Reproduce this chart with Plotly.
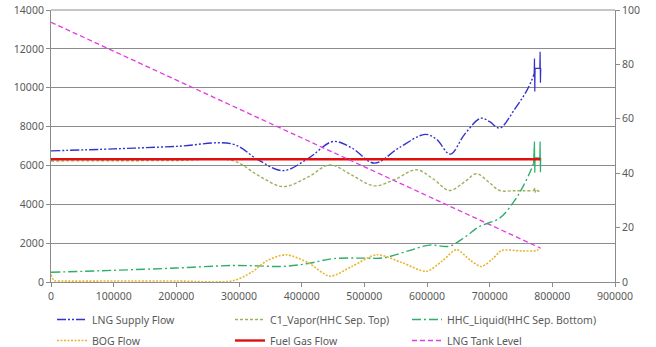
import plotly.graph_objects as go

# ---- data ----
lng_x = [0, 100000, 200000, 290000, 330000, 370000, 410000, 450000, 480000, 516000,
         555000, 597000, 615000, 637000, 660000, 686000, 700000, 716000, 740000, 760000, 771000]
lng_y = [6750, 6850, 6980, 7100, 6300, 5730, 6350, 7230, 6900, 6120,
         6900, 7600, 7350, 6580, 7600, 8430, 8250, 7920, 8900, 9900, 10700]
lng_tail_x = [771000, 771500, 772000, 772500, 775000, 780000, 780500, 781000, 781500]
lng_tail_y = [10700, 11500, 9800, 11000, 11000, 11000, 11850, 10250, 11000]

c1_x = [0, 100000, 200000, 290000, 330000, 370000, 410000, 445000, 480000, 516000,
        550000, 583000, 610000, 636000, 660000, 679000, 700000, 716000, 740000, 770000]
c1_y = [6230, 6240, 6250, 6250, 5500, 4910, 5400, 6030, 5500, 4950,
        5300, 5780, 5300, 4710, 5150, 5570, 5100, 4710, 4700, 4700]
c1_tail_x = [770000, 772000, 773000, 776000, 780000, 781000]
c1_tail_y = [4700, 4850, 4600, 4700, 4650, 4580]

hhc_x = [0, 100000, 200000, 290000, 330000, 370000, 410000, 450000, 500000, 530000,
         570000, 604000, 635000, 660000, 684000, 716000, 740000, 753000, 765000, 770000]
hhc_y = [500, 600, 720, 850, 830, 800, 950, 1200, 1230, 1240,
         1600, 1900, 1840, 2300, 2860, 3290, 4200, 4900, 5700, 6100]
hhc_tail_x = [770000, 771500, 772000, 772500, 780000, 780500, 781000, 781500]
hhc_tail_y = [6100, 7230, 5620, 6390, 6390, 7230, 5650, 6390]

bog_x = [0, 5000, 20000, 100000, 200000, 290000, 320000, 345000, 375000, 410000,
         445000, 480000, 520000, 560000, 599000, 625000, 647000, 670000, 687000, 705000,
         719000, 750000, 775000, 781000]
bog_y = [380, 80, 50, 50, 50, 60, 500, 1100, 1400, 1000,
         300, 800, 1400, 1000, 550, 1100, 1660, 1100, 800, 1200,
         1620, 1600, 1620, 1740]

fuel_x = [0, 781000]
fuel_y = [6320, 6320]

tank_x = [0, 781000]
tank_y = [95.5, 12.5]

names = ["LNG Supply Flow", "C1_Vapor(HHC Sep. Top)", "HHC_Liquid(HHC Sep. Bottom)",
         "BOG Flow", "Fuel Gas Flow", "LNG Tank Level"]

x_ticks = [0, 100000, 200000, 300000, 400000, 500000, 600000, 700000, 800000, 900000]

FONT = "Noto Sans"
TXT = "#595959"
GRID = "#8c8c8c"
W, H = 656, 347
Y_MAX = 14000

fig = go.Figure()

def add(x, y, name, color, dash, width, shape, legend, show=True, yaxis="y", smooth=1.0):
    kw = dict(x=x, y=y, name=name, mode="lines", yaxis=yaxis, legend=legend,
              legendgroup=name, showlegend=show,
              line=dict(color=color, dash=dash, width=width, shape=shape))
    if shape == "spline":
        kw["line"]["smoothing"] = smooth
    fig.add_trace(go.Scatter(**kw))

c_lng, c_c1, c_hhc, c_bog, c_fuel, c_tank = "#3333cc", "#9bb25e", "#2fae6a", "#e9b530", "#e01010", "#e23be2"

add(lng_x, lng_y, names[0], c_lng, "9px,2px,2px,2px,2px,2px", 1.4, "spline", "legend")
add(lng_tail_x, lng_tail_y, names[0], c_lng, "solid", 1.2, "linear", "legend", show=False)
add(c1_x, c1_y, names[1], c_c1, "3px,2px", 1.4, "spline", "legend2")
add(c1_tail_x, c1_tail_y, names[1], c_c1, "3px,2px", 1.4, "linear", "legend2", show=False)
add(hhc_x, hhc_y, names[2], c_hhc, "9px,3px,2px,3px", 1.4, "spline", "legend3")
add(hhc_tail_x, hhc_tail_y, names[2], c_hhc, "solid", 1.2, "linear", "legend3", show=False)
add(bog_x, bog_y, names[3], c_bog, "2px,1.5px", 1.6, "spline", "legend4", smooth=0.8)
add(fuel_x, fuel_y, names[4], c_fuel, "solid", 2.4, "linear", "legend5")
add(tank_x, tank_y, names[5], c_tank, "5px,3px", 1.3, "linear", "legend6", yaxis="y2")

tickfont = dict(family=FONT, size=10.5, color=TXT)

# legend slots in window pixels: (text left x, row centre y)
col_text_x = [92, 270, 447]
row_y = [320, 341]

def leg(i):
    cx = col_text_x[i % 3] - 40
    cy = row_y[i // 3] - 15
    return dict(orientation="h", xref="container", yref="container",
                x=cx / W, y=1 - cy / H, xanchor="left", yanchor="top",
                font=dict(family=FONT, size=10.5, color=TXT), bgcolor="rgba(0,0,0,0)",
                itemwidth=30)

layout = dict(
    width=W, height=H,
    margin=dict(l=51, r=41, t=10, b=65, autoexpand=False),
    paper_bgcolor="white", plot_bgcolor="white",
    font=dict(family=FONT, size=10.5, color=TXT),
    xaxis=dict(range=[0, 900000], tickvals=x_ticks, ticktext=[str(v) for v in x_ticks],
               showgrid=False, zeroline=False, showline=True, linecolor=GRID, linewidth=1,
               ticks="outside", ticklen=4, tickcolor=GRID, tickfont=tickfont, automargin=False),
    yaxis=dict(range=[0, Y_MAX], dtick=2000, tickformat="d", showgrid=True, gridcolor=GRID,
               gridwidth=1, zeroline=False, showline=True, linecolor=GRID, linewidth=1,
               ticks="outside", ticklen=4, tickcolor=GRID, tickfont=tickfont, automargin=False),
    yaxis2=dict(range=[0, 100], dtick=20, overlaying="y", side="right", showgrid=False,
                zeroline=False, showline=True, linecolor=GRID, linewidth=1,
                ticks="outside", ticklen=4, tickcolor=GRID, tickfont=tickfont, automargin=False),
    # top gridline at the axis maximum (plotly omits the grid line on the plot edge)
    shapes=[dict(type="line", xref="paper", x0=0, x1=1, yref="paper", y0=1, y1=1,
                 line=dict(color=GRID, width=1), layer="below")],
)
for i in range(6):
    layout["legend" if i == 0 else f"legend{i+1}"] = leg(i)

fig.update_layout(**layout)

# remove the default 8px page margin so the figure fills the window exactly
fig.write_html("out.html", config={"displayModeBar": False},
               post_script="document.body.style.margin='0';")
